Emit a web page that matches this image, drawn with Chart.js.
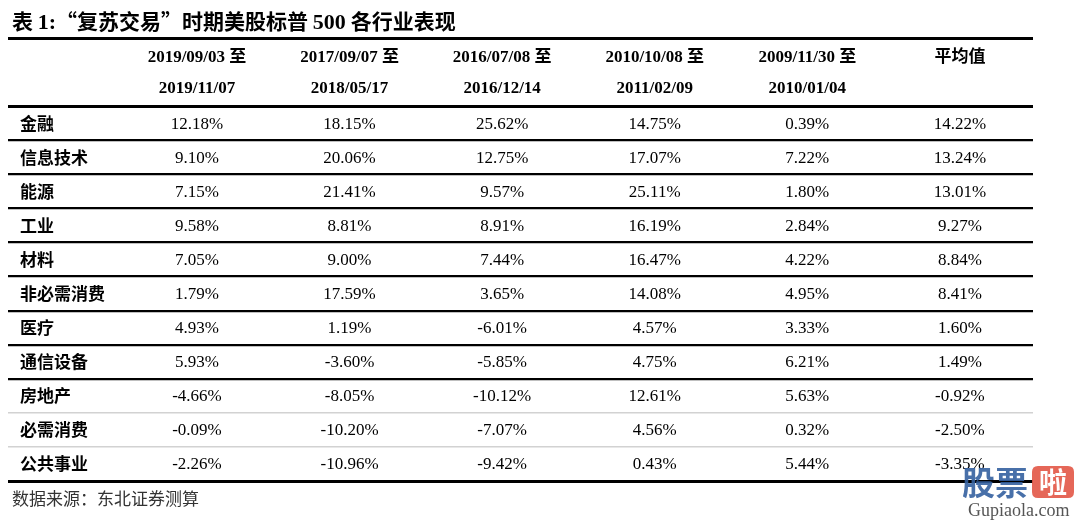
<!DOCTYPE html>
<html><head><meta charset="utf-8">
<script src="https://cdn.jsdelivr.net/npm/chart.js@4/dist/chart.umd.min.js"></script>
<style>html,body{margin:0;padding:0;background:#fff}canvas{display:block}</style>
</head><body>
<canvas id="c" width="1080" height="524"></canvas>
<script>
const titleParts = ['表 ', '1:', '“复苏交易”时期美股标普 ', '500', ' 各行业表现'];
const sourceText = '数据来源：东北证券测算';
const categories = ['金融','信息技术','能源','工业','材料','非必需消费','医疗','通信设备','房地产','必需消费','公共事业'];
const periodStart = ['2019/09/03 至','2017/09/07 至','2016/07/08 至','2010/10/08 至','2009/11/30 至','平均值'];
const periodEnd = ['2019/11/07','2018/05/17','2016/12/14','2011/02/09','2010/01/04',''];
const p2019 = [12.18, 9.10, 7.15, 9.58, 7.05, 1.79, 4.93, 5.93, -4.66, -0.09, -2.26];
const p2017 = [18.15, 20.06, 21.41, 8.81, 9.00, 17.59, 1.19, -3.60, -8.05, -10.20, -10.96];
const p2016 = [25.62, 12.75, 9.57, 8.91, 7.44, 3.65, -6.01, -5.85, -10.12, -7.07, -9.42];
const p2010 = [14.75, 17.07, 25.11, 16.19, 16.47, 14.08, 4.57, 4.75, 12.61, 4.56, 0.43];
const p2009 = [0.39, 7.22, 1.80, 2.84, 4.22, 4.95, 3.33, 6.21, 5.63, 0.32, 5.44];
const avgAll = [14.22, 13.24, 13.01, 9.27, 8.84, 8.41, 1.60, 1.49, -0.92, -2.50, -3.35];
const series = [p2019, p2017, p2016, p2010, p2009, avgAll];

const SERIF = '"Liberation Serif","Times New Roman","Noto Sans CJK SC",serif';
const CJK = '"Noto Sans CJK SC","Liberation Serif",sans-serif';

const datasets = series.map((vals, c) => ({
  label: periodStart[c],
  data: vals.map((v, r) => ({x: c, y: r, v: v})),
  pointRadius: 0, pointHoverRadius: 0, showLine: false
}));

const thick = [-2.5, -0.5, 10.5];
const gray = [8.5, 9.5];

const tablePlugin = {
  id: 'tableText',
  afterDatasetsDraw(chart) {
    const ctx = chart.ctx;
    const xs = chart.scales.x, ys = chart.scales.y;
    ctx.save();
    ctx.fillStyle = '#000';
    ctx.textBaseline = 'middle';
    ctx.textAlign = 'center';
    ctx.font = 'bold 17px ' + SERIF;
    periodStart.forEach((t, c) => {
      const x = xs.getPixelForValue(c);
      ctx.fillText(t, x, ys.getPixelForValue(-2) + 3);
      if (periodEnd[c]) ctx.fillText(periodEnd[c], x, ys.getPixelForValue(-1) - 1);
    });
    ctx.font = '17px ' + SERIF;
    chart.data.datasets.forEach((ds, di) => {
      const meta = chart.getDatasetMeta(di);
      meta.data.forEach((el, i) => {
        ctx.fillText(ds.data[i].v.toFixed(2) + '%', el.x, el.y + 1);
      });
    });
    ctx.textAlign = 'left';
    ctx.font = 'bold 17px ' + CJK;
    categories.forEach((name, r) => {
      ctx.fillText(name, chart.chartArea.left + 12, ys.getPixelForValue(r));
    });
    ctx.restore();
  },
  afterDraw(chart) {
    const ctx = chart.ctx;
    ctx.save();
    ctx.textBaseline = 'alphabetic';
    ctx.textAlign = 'left';
    ctx.fillStyle = '#000';
    let tx = 12;
    titleParts.forEach((p, i) => {
      ctx.font = (i % 2 === 1) ? 'bold 22px ' + SERIF : 'bold 21px ' + CJK;
      ctx.fillText(p, tx, 29);
      tx += ctx.measureText(p).width;
    });
    ctx.fillStyle = '#333';
    ctx.font = '17px ' + CJK;
    ctx.fillText(sourceText, 12, 505);
    // watermark
    ctx.fillStyle = 'rgba(52,96,160,0.9)';
    ctx.font = 'bold 33px ' + CJK;
    ctx.fillText('股票', 962, 495);
    ctx.fillStyle = 'rgba(226,86,70,0.9)';
    const bx = 1032, by = 466, bw = 42, bh = 32, rr = 6;
    ctx.beginPath();
    ctx.moveTo(bx + rr, by); ctx.lineTo(bx + bw - rr, by); ctx.quadraticCurveTo(bx + bw, by, bx + bw, by + rr);
    ctx.lineTo(bx + bw, by + bh - rr); ctx.quadraticCurveTo(bx + bw, by + bh, bx + bw - rr, by + bh);
    ctx.lineTo(bx + rr, by + bh); ctx.quadraticCurveTo(bx, by + bh, bx, by + bh - rr);
    ctx.lineTo(bx, by + rr); ctx.quadraticCurveTo(bx, by, bx + rr, by); ctx.fill();
    ctx.fillStyle = '#fff';
    ctx.font = 'bold 28px ' + CJK;
    ctx.fillText('啦', bx + 7, by + 27);
    ctx.fillStyle = '#555';
    ctx.font = '18px ' + SERIF;
    ctx.fillText('Gupiaola.com', 968, 516);
    ctx.restore();
  }
};

new Chart(document.getElementById('c'), {
  type: 'scatter',
  data: { datasets },
  options: {
    responsive: false, animation: false, devicePixelRatio: 1,
    layout: { padding: { left: 8, right: 47, top: 38, bottom: 43 } },
    plugins: { legend: { display: false }, tooltip: { enabled: false }, title: { display: false } },
    events: [],
    scales: {
      x: { type: 'linear', min: -1.2385, max: 5.479, display: false },
      y: {
        type: 'linear', reverse: true, min: -2.5, max: 10.5,
        afterBuildTicks: s => { s.ticks = [-2.5, -0.5, 0.5, 1.5, 2.5, 3.5, 4.5, 5.5, 6.5, 7.5, 8.5, 9.5, 10.5].map(v => ({value: v})); },
        ticks: { display: false },
        border: { display: false },
        grid: {
          drawTicks: false,
          color: c => gray.includes(c.tick.value) ? '#d2d2d2' : '#000',
          lineWidth: c => thick.includes(c.tick.value) ? 3 : (gray.includes(c.tick.value) ? 1.5 : 2.2)
        }
      }
    }
  },
  plugins: [tablePlugin]
});
</script>
</body></html>
